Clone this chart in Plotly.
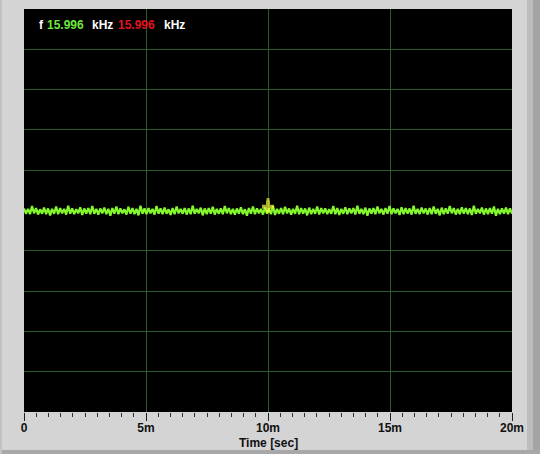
import numpy as np
import plotly.graph_objects as go

# ---------------- data ----------------
base_hz = 15996.0            # nominal frequency (Hz)
# frequency deviation from nominal, in millihertz
dev_mhz = [
    5,-8,4,-9,11,-7,6,-10,3,-8,7,-9,5,-12,4,-8,10,-9,6,-7,
    4,-10,12,-8,5,-9,3,-7,8,-11,5,-8,6,-9,11,-8,4,-10,5,-7,
    7,-9,4,-13,6,-8,10,-9,5,-7,3,-10,9,-8,6,-9,4,-12,12,-8,
    5,-9,6,-7,4,-10,11,-8,5,-9,7,-8,3,-11,6,-9,10,-7,4,-8,
    6,-10,5,-9,12,-8,4,-7,7,-12,5,-9,6,-8,9,-10,4,-8,5,-9,
    11,-7,6,-9,4,-10,5,-8,8,-9,3,-13,6,-8,10,-9,5,-7,4,-10,
    7,-8,5,-9,11,-11,4,-8,6,-9,9,-7,5,-10,4,-8,12,-9,6,-8,
    5,-12,7,-9,4,-8,10,-10,6,-7,5,-9,3,-8,11,-9,6,-11,4,-8,
    8,-9,5,-7,6,-10,12,-8,4,-9,7,-13,5,-8,6,-9,10,-7,4,-10,
    6,-8,11,-9,5,-7,4,-11,8,-9,6,-8,5,-10,12,-8,4,-9,7,-7,
    5,-10,6,-9,10,-8,4,-12,7,-9,5,-8,11,-7,6,-10,4,-9,8,-8,
    6,-9,5,-11,12,-8,4,-7,7,-10,5,-9,6,-8,10,-13,4,-9,5,-8,
    7,-9,5,-8,
]
t_start, t_end = 0.0, 0.020   # seconds
cursor_t = 0.010
cursor_mhz = [27, 9]

x_tick_vals = [0, 0.005, 0.010, 0.015, 0.020]
x_tick_text = ["0", "5m", "10m", "15m", "20m"]
readout_f = "15.996"
readout_2 = "15.996"

# ---------------- derived ----------------
t_sec = np.linspace(t_start, t_end, len(dev_mhz))
freq_hz = [base_hz + d / 1000.0 for d in dev_mhz]
cursor_hz = [base_hz + d / 1000.0 for d in cursor_mhz]
y_lo, y_hi = base_hz - 0.5, base_hz + 0.5
y_grid = [y_lo + i * 0.1 for i in range(11)]

W, H = 540, 454
L, R, T, B = 24, 512, 9, 412
def px(x):  # paper x from pixel
    return (x - L) / (R - L)
def py(y):  # paper y from pixel
    return (B - y) / (B - T)

fig = go.Figure()
fig.add_trace(go.Scatter(x=t_sec, y=freq_hz, mode="lines",
                         line=dict(color="#84f82c", width=2.2),
                         hoverinfo="skip", showlegend=False))
fig.add_trace(go.Scatter(x=[cursor_t, cursor_t], y=cursor_hz, mode="markers",
                         marker=dict(color="#f8f83c", size=[3, 10],
                                     symbol=["square", "cross"], line=dict(width=0)),
                         hoverinfo="skip", showlegend=False))

font = "Liberation Sans, Arial, sans-serif"
anns = [
    (37, "<b>f</b>", "white"),
    (45, "<b>" + readout_f + "</b>", "#6ee83c"),
    (90, "<b>kHz</b>", "white"),
    (116, "<b>" + readout_2 + "</b>", "#e0141e"),
    (162, "<b>kHz</b>", "white"),
]
for x0, txt, col in anns:
    fig.add_annotation(x=px(x0), y=py(25), xref="paper", yref="paper",
                       xanchor="left", yanchor="middle", showarrow=False,
                       text=txt, font=dict(family=font, size=12, color=col))
fig.add_annotation(x=px(268), y=py(443), xref="paper", yref="paper",
                   xanchor="center", yanchor="middle", showarrow=False,
                   text="<b>Time [sec]</b>", font=dict(family=font, size=12, color="#101010"))

# window frame strips
shapes = [
    dict(type="rect", xref="paper", yref="paper", x0=px(527), x1=px(533), y0=py(454), y1=py(0),
         fillcolor="#bdbdbd", line=dict(width=0), layer="below"),
    dict(type="rect", xref="paper", yref="paper", x0=px(533), x1=px(540), y0=py(454), y1=py(0),
         fillcolor="#a4a4a4", line=dict(width=0), layer="below"),
    dict(type="rect", xref="paper", yref="paper", x0=px(0), x1=px(540), y0=py(454), y1=py(450),
         fillcolor="#a8a8a8", line=dict(width=0), layer="below"),
    dict(type="rect", xref="paper", yref="paper", x0=px(0), x1=px(2), y0=py(454), y1=py(0),
         fillcolor="#c2c2c2", line=dict(width=0), layer="below"),
]

fig.update_layout(
    width=W, height=H, autosize=False,
    margin=dict(l=L, r=W - R, t=T, b=H - B, pad=0),
    paper_bgcolor="#d4d4d4", plot_bgcolor="#000000",
    shapes=shapes,
    xaxis=dict(range=[t_start, t_end], tickvals=x_tick_vals,
               ticktext=["<b>" + s + "</b>" for s in x_tick_text],
               showgrid=True, gridcolor="#2c5a2c", gridwidth=1,
               ticks="outside", ticklen=8, tickcolor="#202020", tickwidth=1,
               ticklabelstandoff=-3,
               minor=dict(dtick=0.0005, ticks="outside", ticklen=4, tickcolor="#303030",
                          showgrid=False),
               tickfont=dict(family=font, size=12, color="#101010"),
               showline=False, zeroline=False, fixedrange=True),
    yaxis=dict(range=[y_lo, y_hi], tickvals=y_grid, showticklabels=False,
               showgrid=True, gridcolor="#2c5a2c", gridwidth=1, ticks="",
               showline=False, zeroline=False, fixedrange=True),
)
fig.write_html("out.html", config={"displayModeBar": False, "staticPlot": True},
               post_script="document.body.style.margin='0';document.body.style.background='#d4d4d4';")
